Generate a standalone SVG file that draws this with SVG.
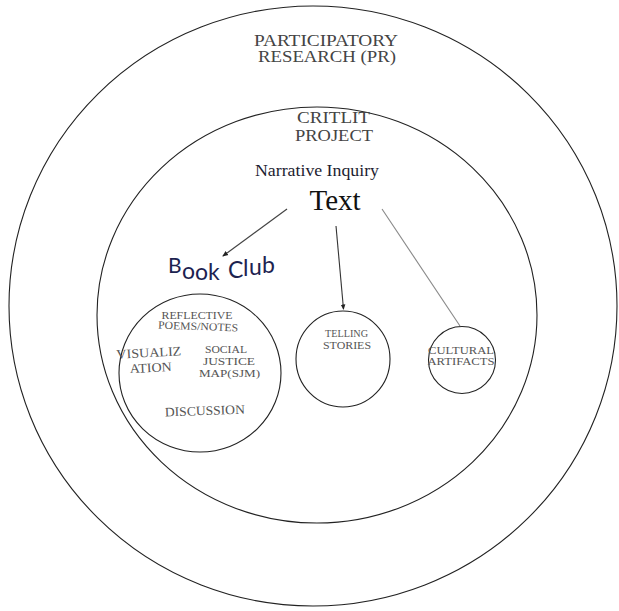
<svg xmlns="http://www.w3.org/2000/svg" width="619" height="611" viewBox="0 0 619 611">
<style>
.ring{fill:none;stroke:#222;stroke-width:1.1}
.cap{font-family:"Liberation Serif","Times New Roman",serif;fill:#444}
.sm{font-family:"Liberation Serif","Times New Roman",serif;fill:#555}
</style>
<defs>
<marker id="ah" viewBox="0 0 6 6" refX="5" refY="3" markerWidth="5" markerHeight="5" orient="auto">
<path d="M0,0.5 L6,3 L0,5.5 Z" fill="#222"/>
</marker>
</defs>
<rect width="619" height="611" fill="#fff"/>
<g id="pr">
<ellipse class="ring" cx="313" cy="306" rx="304" ry="300"/>
<text class="cap" font-size="16" x="326" y="46" text-anchor="middle" textLength="144" lengthAdjust="spacingAndGlyphs">PARTICIPATORY</text>
<text class="cap" font-size="16" x="327" y="62" text-anchor="middle" textLength="138" lengthAdjust="spacingAndGlyphs">RESEARCH (PR)</text>
</g>
<g id="critlit">
<ellipse class="ring" cx="317" cy="315" rx="220" ry="208"/>
<text class="cap" font-size="17" x="333.5" y="123" text-anchor="middle" textLength="73" lengthAdjust="spacingAndGlyphs">CRITLIT</text>
<text class="cap" font-size="17" x="334" y="141" text-anchor="middle" textLength="78" lengthAdjust="spacingAndGlyphs">PROJECT</text>
<text font-family="Liberation Serif,serif" font-size="16" fill="#1c1c30" x="317" y="176" text-anchor="middle" textLength="124" lengthAdjust="spacingAndGlyphs">Narrative Inquiry</text>
</g>
<g id="text-node">
<text font-family="Liberation Serif,serif" font-size="29" fill="#111" x="335" y="210" text-anchor="middle">Text</text>
</g>
<g id="connectors" fill="none">
<line x1="287" y1="209" x2="223" y2="256" stroke="#444" stroke-width="1.2" marker-end="url(#ah)"/>
<line x1="336" y1="226" x2="343.5" y2="309" stroke="#333" stroke-width="1.1" marker-end="url(#ah)"/>
<line x1="382" y1="209" x2="460" y2="326" stroke="#888" stroke-width="1.1"/>
</g>
<g id="book-club">
<text font-family="Lato,'Open Sans',sans-serif" fill="#1c2350" font-size="23"><tspan x="168" y="273" font-size="21">B</tspan><tspan x="182" y="279">o</tspan><tspan x="195" y="280">o</tspan><tspan x="208" y="280">k</tspan><tspan x="228" y="278">C</tspan><tspan x="243" y="276">l</tspan><tspan x="249" y="275">u</tspan><tspan x="262" y="273">b</tspan></text>
<ellipse class="ring" cx="200" cy="373" rx="81" ry="79"/>
<text class="sm" font-size="11" x="197" y="319" text-anchor="middle" textLength="71" lengthAdjust="spacingAndGlyphs">REFLECTIVE</text>
<text class="sm" font-size="11" x="198" y="330" text-anchor="middle" textLength="80" lengthAdjust="spacingAndGlyphs" transform="rotate(2 198 330)">POEMS/NOTES</text>
<text class="sm" font-size="13" x="149" y="357" text-anchor="middle" textLength="65" lengthAdjust="spacingAndGlyphs" transform="rotate(-3 149 357)">VISUALIZ</text>
<text class="sm" font-size="13" x="151" y="372" text-anchor="middle" textLength="42" lengthAdjust="spacingAndGlyphs" transform="rotate(-3 151 372)">ATION</text>
<text class="sm" font-size="11" x="226" y="353" text-anchor="middle" textLength="42" lengthAdjust="spacingAndGlyphs">SOCIAL</text>
<text class="sm" font-size="11" x="229" y="365" text-anchor="middle" textLength="52" lengthAdjust="spacingAndGlyphs">JUSTICE</text>
<text class="sm" font-size="11" x="229.5" y="377" text-anchor="middle" textLength="61" lengthAdjust="spacingAndGlyphs">MAP(SJM)</text>
<text class="sm" font-size="13" x="205" y="415" text-anchor="middle" textLength="80" lengthAdjust="spacingAndGlyphs" transform="rotate(-2 205 415)">DISCUSSION</text>
</g>
<g id="telling-stories">
<ellipse class="ring" cx="343" cy="359" rx="47" ry="48"/>
<text class="sm" font-size="9.5" x="346.5" y="337" text-anchor="middle" textLength="43" lengthAdjust="spacingAndGlyphs">TELLING</text>
<text class="sm" font-size="10.5" x="347" y="349" text-anchor="middle" textLength="48" lengthAdjust="spacingAndGlyphs">STORIES</text>
</g>
<g id="cultural-artifacts">
<circle class="ring" cx="462" cy="360" r="33.5"/>
<text class="sm" font-size="11" x="461" y="354" text-anchor="middle" textLength="66" lengthAdjust="spacingAndGlyphs">CULTURAL</text>
<text class="sm" font-size="11" x="461" y="365" text-anchor="middle" textLength="67" lengthAdjust="spacingAndGlyphs">ARTIFACTS</text>
</g>
</svg>
